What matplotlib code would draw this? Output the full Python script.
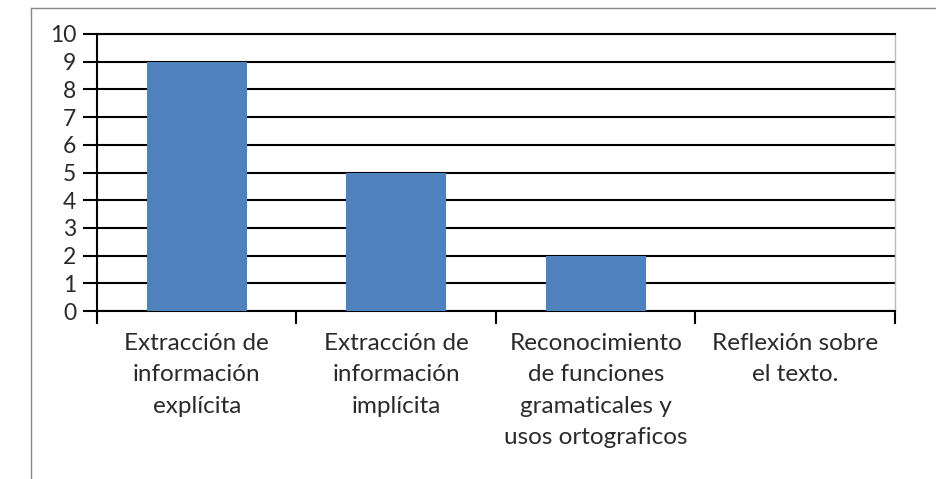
import matplotlib
matplotlib.use("Agg")
import matplotlib.pyplot as plt
from matplotlib.lines import Line2D
import numpy as np

categories = ["Extracción de\ninformación\nexplícita",
              "Extracción de\ninformación\nimplícita",
              "Reconocimiento\nde funciones\ngramaticales y\nusos ortograficos",
              "Reflexión sobre\nel texto."]
values = [9, 5, 2, 0]
yticks = list(range(0, 11))

plt.rcParams['font.family'] = ['Lato', 'DejaVu Sans']

fig = plt.figure(figsize=(9.37, 4.79), dpi=100)
ax = fig.add_axes([97/937, 1-311/479, (895-97)/937, (311-34)/479])

x = np.arange(len(categories))
ax.bar(x, values, width=0.5, color="#4F81BD", zorder=3)
ax.set_xlim(-0.5, len(categories)-0.5)
ax.set_ylim(0, 10)
ax.set_yticks(yticks)
ax.yaxis.grid(True, color="black", linewidth=1.5, zorder=1)
ax.set_axisbelow(True)

ax.set_xticks(x)
ax.set_xticklabels(categories, fontsize=17.5, color="#2a2a2a", linespacing=1.6, va="top")
ax.set_xticks(np.arange(-0.5, len(categories)), minor=True)
ax.tick_params(axis="x", which="major", length=0, pad=16)
ax.tick_params(axis="x", which="minor", length=9, width=1.5, direction="out", color="black")
ax.tick_params(axis="y", length=10, width=1.5, direction="out", labelsize=16.5, labelcolor="#2a2a2a", pad=5)

for s in ["left", "bottom", "top"]:
    ax.spines[s].set_color("black")
    ax.spines[s].set_linewidth(1.5)
ax.spines["right"].set_color("#bbbbbb")
ax.spines["right"].set_linewidth(1)

# outer border (top and left edges of the chart frame)
fig.add_artist(Line2D([31/937, 1], [1-8/479, 1-8/479], transform=fig.transFigure, color="#888888", linewidth=1))
fig.add_artist(Line2D([31/937, 31/937], [0, 1-8/479], transform=fig.transFigure, color="#888888", linewidth=1))

fig.savefig("out.png", dpi=100)
